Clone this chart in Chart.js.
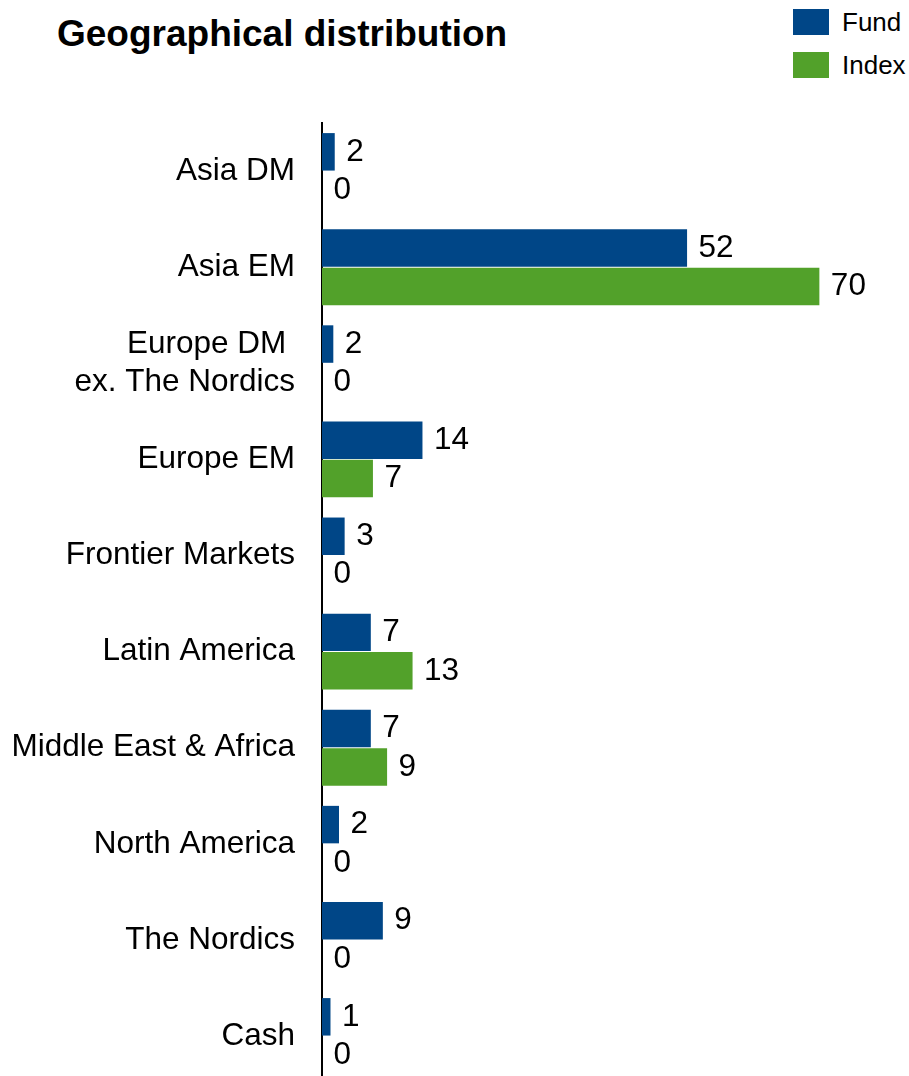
<!DOCTYPE html>
<html>
<head>
<meta charset="utf-8">
<script src="https://cdn.jsdelivr.net/npm/chart.js@4"></script>
<style>
  html, body { margin: 0; padding: 0; background: #fff; overflow: hidden; }
  body { width: 909px; height: 1076px; position: relative; font-family: "Liberation Sans", Arial, sans-serif; }
  #title { position: absolute; left: 57px; top: 12px; font-size: 37px; line-height: 44px; font-weight: bold; color: #000; white-space: nowrap; }
  .leg { position: absolute; left: 793px; font-size: 26px; line-height: 26px; color: #000; white-space: nowrap; }
  .leg span { display: inline-block; width: 36px; height: 26px; vertical-align: top; margin-right: 13px; }
  #wrap { position: absolute; left: 0; top: 0; width: 909px; height: 1130px; }
</style>
</head>
<body>
<div id="title">Geographical distribution</div>
<div class="leg" id="legFund" style="top:9px"><span style="background:#004687"></span>Fund</div>
<div class="leg" id="legIndex" style="top:52px"><span style="background:#52a12a"></span>Index</div>
<div id="wrap"><canvas id="c" width="909" height="1130"></canvas></div>
<script>
const categories = [
  "Asia DM",
  "Asia EM",
  ["Europe DM ", "ex. The Nordics"],
  "Europe EM",
  "Frontier Markets",
  "Latin America",
  "Middle East & Africa",
  "North America",
  "The Nordics",
  "Cash"
];
const fundValues  = [1.8, 51.6, 1.6, 14.2, 3.2, 6.9, 6.9, 2.4, 8.6, 1.2];
const indexValues = [0,   70.3, 0,   7.2,  0,   12.8, 9.2, 0,   0,   0];
const seriesNames = ["Fund", "Index"];
const seriesColors = ["#004687", "#52a12a"];

const valueLabels = {
  id: 'valueLabels',
  afterDatasetsDraw(chart) {
    const ctx = chart.ctx;
    ctx.save();
    ctx.font = '31.5px "Liberation Sans", Arial, sans-serif';
    ctx.fillStyle = '#000';
    ctx.textAlign = 'left';
    ctx.textBaseline = 'middle';
    chart.data.datasets.forEach((ds, di) => {
      const meta = chart.getDatasetMeta(di);
      meta.data.forEach((el, i) => {
        const v = ds.data[i];
        ctx.fillText(String(Math.round(v)), el.x + 11.5, el.y);
      });
    });
    ctx.restore();
  }
};

new Chart(document.getElementById('c'), {
  type: 'bar',
  data: {
    labels: categories,
    datasets: [
      { label: seriesNames[0], data: fundValues, backgroundColor: seriesColors[0], categoryPercentage: 0.8, barPercentage: 0.975 },
      { label: seriesNames[1], data: indexValues, backgroundColor: seriesColors[1], categoryPercentage: 0.8, barPercentage: 0.975 }
    ]
  },
  options: {
    indexAxis: 'y',
    responsive: false,
    animation: false,
    devicePixelRatio: 1,
    layout: { padding: { top: 123, bottom: 0, left: 0, right: 21 } },
    plugins: { legend: { display: false }, title: { display: false }, tooltip: { enabled: false } },
    scales: {
      x: { display: false, min: 0, max: 80 },
      y: {
        afterFit(s) { s.width = 322; },
        grid: { display: false, drawTicks: false },
        border: { display: true, color: '#000', width: 2 },
        ticks: {
          color: '#000',
          padding: 27,
          font: { family: '"Liberation Sans", Arial, sans-serif', size: 31.5, lineHeight: 1.2 }
        }
      }
    }
  },
  plugins: [valueLabels]
});
</script>
</body>
</html>
